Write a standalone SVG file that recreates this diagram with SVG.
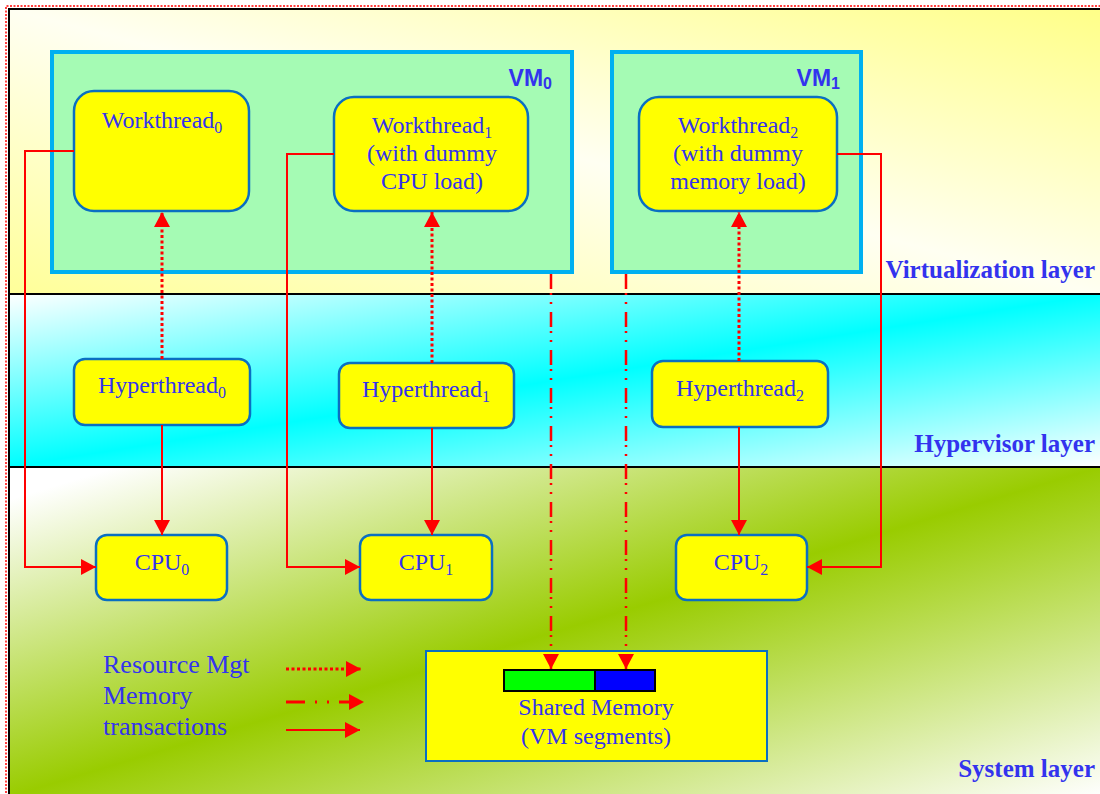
<svg xmlns="http://www.w3.org/2000/svg" width="1100" height="794" viewBox="0 0 1100 794">
<defs>
<linearGradient id="gVirt" x1="0" y1="1" x2="1" y2="0">
<stop offset="0" stop-color="#ffff99"/>
<stop offset="0.5" stop-color="#fffff2"/>
<stop offset="1" stop-color="#ffff88"/>
</linearGradient>
<linearGradient id="gHyp" x1="0" y1="0" x2="1" y2="1">
<stop offset="0" stop-color="#ffffff"/>
<stop offset="0.5" stop-color="#00ffff"/>
<stop offset="1" stop-color="#ffffff"/>
</linearGradient>
<linearGradient id="gSys" x1="0" y1="0" x2="1" y2="1">
<stop offset="0.05" stop-color="#ffffff"/>
<stop offset="0.5" stop-color="#99cc00"/>
<stop offset="1" stop-color="#ffffff"/>
</linearGradient>
<marker id="ah" markerUnits="userSpaceOnUse" markerWidth="16" markerHeight="16" refX="15" refY="8" orient="auto">
<path d="M0,0 L15,8 L0,16 z" fill="#ff0000"/>
</marker>
<style>
.t{font-family:"Liberation Serif","Times New Roman",serif;font-size:24px;fill:#3333ee;text-anchor:middle}
.lay{font-family:"Liberation Serif","Times New Roman",serif;font-size:25px;font-weight:bold;fill:#3333ee;text-anchor:end}
.vm{font-family:"Liberation Sans",Arial,sans-serif;font-size:23px;font-weight:bold;fill:#3333ee;text-anchor:end}
.leg{font-family:"Liberation Serif","Times New Roman",serif;font-size:26px;fill:#3333ee}
.box{fill:#ffff00;stroke:#0a6fc2;stroke-width:2.5}
.vmbox{fill:#a5fbb4;stroke:#00b0f0;stroke-width:4}
.solid{fill:none;stroke:#ff0000;stroke-width:2}
.dot{fill:none;stroke:#ff0000;stroke-width:3;stroke-dasharray:3,2.5}
.dd{fill:none;stroke:#ff0000;stroke-width:2.5;stroke-dasharray:15,4,2,7,2,8}
</style>
</defs>
<g id="background">
<rect x="8" y="9" width="1092" height="285" fill="url(#gVirt)"/>
<rect x="8" y="294" width="1092" height="173" fill="url(#gHyp)"/>
<rect x="8" y="467" width="1092" height="330" fill="url(#gSys)"/>
<path d="M9,800 V9 H1100" fill="none" stroke="#000" stroke-width="2"/>
<path d="M6,800 V6 H1100" fill="none" stroke="#ff0000" stroke-width="1.5" stroke-dasharray="2,1.5"/>
<line x1="8" y1="294" x2="1100" y2="294" stroke="#000" stroke-width="2"/>
<line x1="8" y1="467" x2="1100" y2="467" stroke="#000" stroke-width="2"/>
<text class="lay" x="1095" y="278">Virtualization layer</text>
<text class="lay" x="1095" y="452">Hypervisor layer</text>
<text class="lay" x="1095" y="777">System layer</text>
</g>
<g id="vm0">
<rect class="vmbox" x="52" y="52" width="520" height="220"/>
<text class="vm" x="552" y="86">VM<tspan font-size="16" dy="3">0</tspan></text>
</g>
<g id="vm1">
<rect class="vmbox" x="612" y="52" width="249" height="220"/>
<text class="vm" x="840" y="86">VM<tspan font-size="16" dy="3">1</tspan></text>
</g>
<g id="workthread0">
<rect class="box" x="74" y="91" width="175" height="120" rx="20"/>
<text class="t" x="162" y="128">Workthread<tspan font-size="16" dy="5">0</tspan></text>
</g>
<g id="workthread1">
<rect class="box" x="334" y="97" width="194" height="114" rx="20"/>
<text class="t" x="432" y="133">Workthread<tspan font-size="16" dy="5">1</tspan></text>
<text class="t" x="432" y="161">(with dummy</text>
<text class="t" x="432" y="189">CPU load)</text>
</g>
<g id="workthread2">
<rect class="box" x="639" y="97" width="198" height="114" rx="20"/>
<text class="t" x="738" y="133">Workthread<tspan font-size="16" dy="5">2</tspan></text>
<text class="t" x="738" y="161">(with dummy</text>
<text class="t" x="738" y="189">memory load)</text>
</g>
<g id="hyperthread0">
<rect class="box" x="74" y="359" width="176" height="66" rx="11"/>
<text class="t" x="162" y="393">Hyperthread<tspan font-size="16" dy="5">0</tspan></text>
</g>
<g id="hyperthread1">
<rect class="box" x="339" y="363" width="175" height="65" rx="11"/>
<text class="t" x="426" y="397">Hyperthread<tspan font-size="16" dy="5">1</tspan></text>
</g>
<g id="hyperthread2">
<rect class="box" x="652" y="361" width="176" height="66" rx="11"/>
<text class="t" x="740" y="396">Hyperthread<tspan font-size="16" dy="5">2</tspan></text>
</g>
<g id="cpu0">
<rect class="box" x="96" y="535" width="131" height="65" rx="11"/>
<text class="t" x="162" y="570">CPU<tspan font-size="16" dy="5">0</tspan></text>
</g>
<g id="cpu1">
<rect class="box" x="360" y="535" width="132" height="65" rx="11"/>
<text class="t" x="426" y="570">CPU<tspan font-size="16" dy="5">1</tspan></text>
</g>
<g id="cpu2">
<rect class="box" x="676" y="535" width="131" height="65" rx="11"/>
<text class="t" x="741" y="570">CPU<tspan font-size="16" dy="5">2</tspan></text>
</g>
<g id="sharedmemory">
<rect x="426" y="651" width="341" height="110" fill="#ffff00" stroke="#0a6fc2" stroke-width="2"/>
<rect x="504" y="670" width="91" height="21" fill="#00ff00" stroke="#000" stroke-width="2"/>
<rect x="595" y="670" width="60" height="21" fill="#0000ff" stroke="#000" stroke-width="2"/>
<text class="t" x="596" y="715">Shared Memory</text>
<text class="t" x="596" y="744">(VM segments)</text>
</g>
<g id="connectors">
<path class="solid" d="M74,151 H25 V567 H96" marker-end="url(#ah)"/>
<path class="solid" d="M334,154 H287 V567 H360" marker-end="url(#ah)"/>
<path class="solid" d="M837,154 H881 V567 H807" marker-end="url(#ah)"/>
<path class="solid" d="M162,425 V535" marker-end="url(#ah)"/>
<path class="solid" d="M432,428 V535" marker-end="url(#ah)"/>
<path class="solid" d="M739,427 V535" marker-end="url(#ah)"/>
<path class="dot" d="M162,359 V212" marker-end="url(#ah)"/>
<path class="dot" d="M432,363 V212" marker-end="url(#ah)"/>
<path class="dot" d="M739,361 V212" marker-end="url(#ah)"/>
<path class="dd" d="M551,274 V669" marker-end="url(#ah)"/>
<path class="dd" d="M626,274 V669" marker-end="url(#ah)"/>
</g>
<g id="legend">
<text class="leg" x="103" y="673">Resource Mgt</text>
<text class="leg" x="103" y="704">Memory</text>
<text class="leg" x="103" y="735">transactions</text>
<path class="dot" d="M286,669 H361" marker-end="url(#ah)"/>
<path d="M286,702 H364" fill="none" stroke="#ff0000" stroke-width="3" stroke-dasharray="19,10,2,10,2,10" marker-end="url(#ah)"/>
<path class="solid" d="M286,730 H360" marker-end="url(#ah)"/>
</g>
</svg>
